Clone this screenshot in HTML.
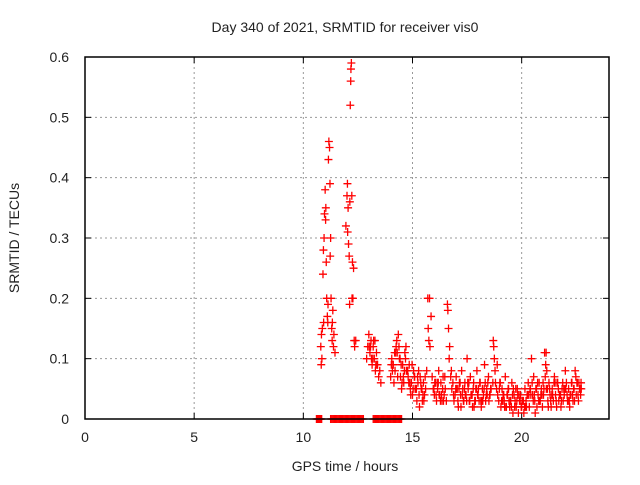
<!DOCTYPE html>
<html><head><meta charset="utf-8"><style>
body{margin:0;background:#fff;width:640px;height:480px;overflow:hidden}
svg text{font-family:"Liberation Sans",sans-serif;fill:#222}
</style></head><body>
<svg id="chart" width="640" height="480" viewBox="0 0 640 480" xmlns="http://www.w3.org/2000/svg">
<text x="345" y="32" font-size="14" text-anchor="middle">Day 340 of 2021, SRMTID for receiver vis0</text>
<text x="345" y="471" font-size="14" text-anchor="middle">GPS time / hours</text>
<text transform="translate(19,238) rotate(-90)" font-size="14" text-anchor="middle">SRMTID / TECUs</text>
<g id="grid"></g>
<g id="axes"></g>
<g id="marks"></g>
<rect x="85" y="57" width="524" height="362" fill="none" stroke="#000" stroke-width="1.5"/>
</svg>
<script>
const xTicks=[0,5,10,15,20];
const yTicks=[0,0.1,0.2,0.3,0.4,0.5,0.6];
const yTickLabels=["0","0.1","0.2","0.3","0.4","0.5","0.6"];
const times=[10.8,10.82,10.85,10.87,10.9,10.92,10.95,10.97,11.0,11.02,11.05,11.07,11.1,11.12,11.15,11.17,11.2,11.22,11.25,11.27,11.3,11.32,11.35,11.38,11.4,11.45,
11.95,12.0,12.02,12.05,12.07,12.1,12.12,12.15,12.17,12.18,12.2,12.22,12.25,12.27,12.3,12.33,12.35,12.4,
12.9,12.95,13.0,13.05,13.1,13.15,13.2,13.25,13.3,13.35,13.4,13.45,13.5,13.55,
14.0,14.05,14.1,14.15,14.2,14.25,14.3,14.35,14.4,14.45,14.5,14.55,14.6,14.65,14.7,14.75,14.8,14.85,14.9,14.95,15.0,15.05,15.1,15.15,15.2,15.25,15.3,15.35,15.4,15.45,15.5,15.55,15.6,
15.65,15.7,15.72,15.75,15.78,15.8,15.85,15.9,15.95,16.0,16.05,16.1,16.15,16.2,16.25,16.3,16.35,16.4,16.45,16.5,16.55,
16.6,16.62,16.65,16.68,16.7,16.75,16.8,16.85,16.9,16.95,17.0,17.05,17.1,17.15,17.2,17.25,17.3,17.35,17.4,17.45,17.5,17.55,17.6,17.65,17.7,17.75,17.8,17.85,17.9,17.95,18.0,18.05,18.1,18.15,18.2,18.25,18.3,18.35,18.4,18.45,18.5,18.55,18.6,
18.7,18.72,18.75,18.78,18.8,18.85,18.9,18.95,19.0,19.05,19.1,19.15,19.2,19.25,19.3,19.35,19.4,19.45,19.5,19.55,19.6,19.65,19.7,19.75,19.8,19.85,19.9,19.95,20.0,20.05,20.1,20.15,20.2,20.25,20.3,20.35,20.4,20.45,20.5,20.55,20.6,20.65,20.7,20.75,20.8,20.85,20.9,20.95,
21.0,21.05,21.1,21.12,21.15,21.18,21.2,21.25,21.3,21.35,21.4,21.45,21.5,21.55,21.6,21.65,21.7,21.75,21.8,21.85,21.9,21.95,22.0,22.05,22.1,22.15,22.2,22.25,22.3,22.35,22.4,22.45,22.5,22.55,22.6,22.65,22.7,
10.83,10.93,11.03,11.13,11.23,11.33,12.03,12.13,12.23,13.02,13.12,13.22,13.32,14.12,14.32,14.52,14.72,14.92,15.12,15.32,15.52,16.02,16.22,16.42,17.02,17.22,17.42,17.62,17.82,18.02,18.22,18.42,19.02,19.22,19.42,19.62,19.82,20.02,20.22,20.42,20.62,20.82,21.02,21.22,21.42,21.62,21.82,22.02,22.22,22.42,22.62,
13.08,13.18,13.28,13.38,14.08,14.18,14.28,14.38,14.48,14.58,14.68,14.78,14.88,14.98,15.08,15.18,15.28,15.38,15.48,15.58,15.98,16.08,16.18,16.28,16.38,16.48,16.78,16.88,16.98,17.08,17.18,17.28,17.38,17.48,17.58,17.68,17.78,17.88,17.98,18.08,18.18,18.28,18.38,18.48,18.58,18.68,18.88,18.98,19.08,19.18,19.28,19.38,19.48,19.58,19.68,19.78,19.88,19.98,20.08,20.18,20.28,20.38,20.48,20.58,20.68,20.78,20.88,20.98,21.08,21.28,21.38,21.48,21.58,21.68,21.78,21.88,21.98,22.08,22.18,22.28,22.38,22.48,22.58,22.68,22.72,
14.03,14.23,14.43,14.63,14.83,15.03,15.23,15.43,16.13,16.33,17.13,17.33,17.53,17.73,17.93,18.13,18.33,18.53,19.13,19.33,19.53,19.73,19.93,20.13,20.33,20.53,20.73,20.93,21.13,21.33,21.53,21.73,21.93,22.13,22.33,22.53,22.73];
const values=[0.12,0.09,0.1,0.15,0.24,0.28,0.3,0.34,0.38,0.33,0.26,0.2,0.17,0.16,0.43,0.46,0.45,0.39,0.3,0.2,0.15,0.13,0.18,0.12,0.14,0.11,
0.32,0.37,0.39,0.35,0.29,0.27,0.19,0.52,0.56,0.58,0.59,0.37,0.26,0.2,0.25,0.13,0.12,0.13,
0.1,0.12,0.14,0.11,0.13,0.09,0.12,0.1,0.08,0.11,0.09,0.07,0.08,0.06,
0.07,0.1,0.09,0.06,0.08,0.12,0.11,0.14,0.1,0.07,0.05,0.09,0.06,0.11,0.12,0.08,0.07,0.09,0.05,0.06,0.04,0.08,0.07,0.05,0.03,0.06,0.04,0.07,0.05,0.03,0.06,0.04,0.05,
0.08,0.2,0.15,0.13,0.2,0.12,0.17,0.07,0.05,0.04,0.06,0.03,0.05,0.08,0.04,0.06,0.03,0.07,0.04,0.05,0.03,
0.19,0.18,0.15,0.1,0.12,0.07,0.05,0.06,0.03,0.04,0.07,0.05,0.02,0.06,0.04,0.08,0.05,0.03,0.06,0.04,0.1,0.05,0.03,0.07,0.04,0.02,0.06,0.03,0.05,0.08,0.04,0.03,0.06,0.02,0.05,0.04,0.09,0.03,0.05,0.06,0.03,0.04,0.05,
0.13,0.12,0.1,0.08,0.06,0.05,0.04,0.03,0.06,0.02,0.05,0.04,0.03,0.07,0.02,0.04,0.05,0.02,0.03,0.06,0.01,0.04,0.03,0.02,0.05,0.01,0.03,0.04,0.02,0.03,0.01,0.05,0.03,0.04,0.06,0.02,0.05,0.1,0.04,0.07,0.03,0.05,0.02,0.04,0.06,0.03,0.05,0.02,
0.04,0.11,0.09,0.11,0.08,0.05,0.03,0.06,0.04,0.02,0.05,0.03,0.07,0.04,0.02,0.06,0.03,0.04,0.02,0.05,0.03,0.04,0.08,0.06,0.03,0.05,0.02,0.04,0.06,0.03,0.05,0.08,0.04,0.06,0.03,0.05,0.04,
0.14,0.16,0.35,0.19,0.27,0.16,0.31,0.36,0.2,0.12,0.1,0.13,0.09,0.09,0.07,0.06,0.08,0.04,0.05,0.02,0.03,0.06,0.04,0.03,0.05,0.02,0.04,0.03,0.02,0.05,0.03,0.04,0.06,0.02,0.03,0.05,0.04,0.03,0.02,0.04,0.01,0.03,0.05,0.02,0.04,0.06,0.03,0.05,0.04,0.03,0.06,
0.12,0.1,0.13,0.09,0.08,0.11,0.13,0.12,0.09,0.07,0.1,0.08,0.06,0.09,0.07,0.05,0.08,0.06,0.04,0.07,0.05,0.04,0.06,0.03,0.05,0.07,0.08,0.04,0.05,0.03,0.06,0.04,0.05,0.03,0.06,0.04,0.05,0.03,0.04,0.06,0.03,0.05,0.04,0.07,0.05,0.06,0.09,0.05,0.03,0.04,0.02,0.05,0.03,0.04,0.02,0.03,0.04,0.02,0.03,0.02,0.04,0.05,0.06,0.04,0.05,0.03,0.04,0.06,0.07,0.05,0.04,0.06,0.03,0.05,0.04,0.06,0.05,0.04,0.03,0.06,0.05,0.07,0.04,0.05,0.06,
0.09,0.11,0.1,0.08,0.06,0.05,0.07,0.05,0.06,0.04,0.05,0.03,0.06,0.04,0.05,0.03,0.06,0.04,0.03,0.04,0.02,0.05,0.03,0.02,0.04,0.03,0.06,0.04,0.05,0.03,0.06,0.04,0.05,0.03,0.04,0.06,0.05];
const zeroTimes=[10.6,10.63,10.66,10.69,10.72,10.75,10.78,10.81,10.84,11.25,11.3,11.35,11.4,11.45,11.5,11.55,11.6,11.65,11.7,11.75,11.8,11.85,11.9,11.95,12.0,12.05,12.1,12.15,12.2,12.25,12.3,12.35,12.4,12.45,12.5,12.55,12.6,12.65,12.7,12.75,13.2,13.25,13.3,13.35,13.4,13.45,13.5,13.55,13.6,13.65,13.7,13.75,13.8,13.85,13.9,13.95,14.0,14.05,14.1,14.15,14.2,14.25,14.3,14.35,14.4,14.45,14.5];

const X=h=>85+h*(524/24);
const Y=v=>419-v*(362/0.6);
const NS="http://www.w3.org/2000/svg";
const grid=document.getElementById('grid'),axes=document.getElementById('axes'),marks=document.getElementById('marks');
function mk(tag,attrs,parent){const e=document.createElementNS(NS,tag);for(const k in attrs)e.setAttribute(k,attrs[k]);parent.appendChild(e);return e;}
xTicks.forEach(t=>{
  if(t>0){const g=mk('line',{x1:X(t),x2:X(t),y1:57,y2:419,stroke:'#999','stroke-dasharray':'2,3'},grid);
  
  }
  const tk=mk('line',{x1:X(t),x2:X(t),y1:419,y2:413,stroke:'#000'},axes);
  
  
  const tk2=mk('line',{x1:X(t),x2:X(t),y1:57,y2:63,stroke:'#000'},axes);
  
  
  const l=mk('text',{x:X(t),y:442,'font-size':14,'text-anchor':'middle'},axes);l.textContent=t;
  
  
});
yTicks.forEach((t,i)=>{
  if(t>0&&t<0.6){const g=mk('line',{x1:85,x2:609,y1:Y(t),y2:Y(t),stroke:'#999','stroke-dasharray':'2,3'},grid);
  
  }
  const tk=mk('line',{x1:85,x2:91,y1:Y(t),y2:Y(t),stroke:'#000'},axes);
  
  
  const tk2=mk('line',{x1:603,x2:609,y1:Y(t),y2:Y(t),stroke:'#000'},axes);
  
  
  const l=mk('text',{x:69,y:Y(t)+5,'font-size':14,'text-anchor':'end'},axes);l.textContent=yTickLabels[i];
  
  
});
function plus(x,y,name){
  const p=mk('path',{d:`M${x-4},${y}h8M${x},${y-4}v8`,stroke:'#f00','stroke-width':1.3,fill:'none'},marks);
  
  
}
times.forEach((t,i)=>plus(X(t),Y(values[i]),'srmtid-point'));
zeroTimes.forEach(t=>plus(X(t),Y(0),'zero-point'));
</script>
</body></html>
